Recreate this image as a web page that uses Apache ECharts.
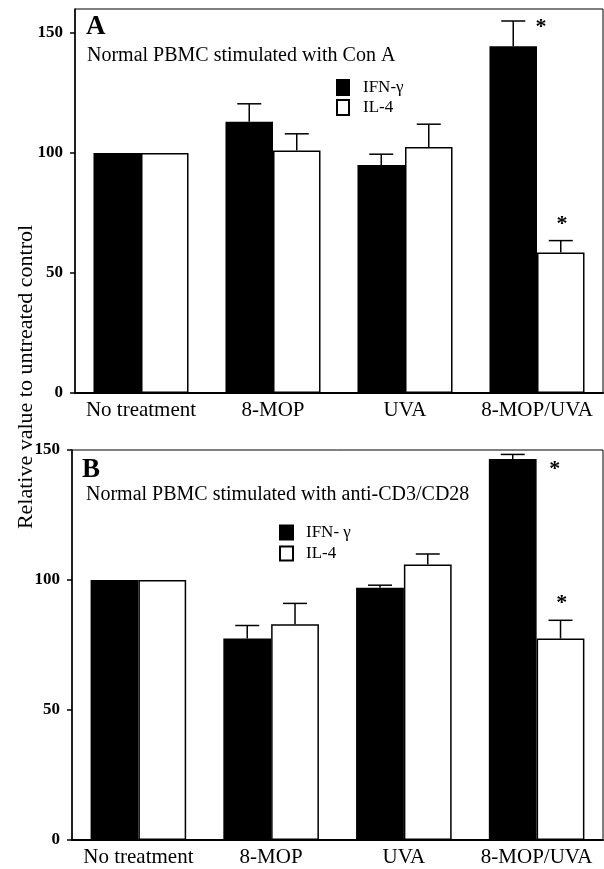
<!DOCTYPE html>
<html>
<head>
<meta charset="utf-8">
<script src="https://cdn.jsdelivr.net/npm/echarts@6/dist/echarts.min.js"></script>
<style>
  html, body { margin: 0; padding: 0; background: #fff; }
  #chart { width: 604px; height: 869px; }
</style>
</head>
<body>
<div id="chart"></div>
<script>
// categories shared by both panels
var categories = ['No treatment', '8-MOP', 'UVA', '8-MOP/UVA'];

// panel A: Con A
var ifnA = [100, 113, 95, 144.5];
var ifnErrA = [null, 120.5, 99.5, 155];
var il4A = [100, 101, 102.5, 58.5];
var il4ErrA = [null, 108, 112, 63.5];
var starsA = [[3, 154, 0], [3, 72, 1]]; // [category, value, 0=IFN / 1=IL-4]

// panel B: anti-CD3/CD28
var ifnB = [100, 77.5, 97, 146.5];
var ifnErrB = [null, 82.5, 98, 148.3];
var il4B = [100, 83, 106, 77.5];
var il4ErrB = [null, 91, 110, 84.5];
var starsB = [[3, 144, 0], [3, 92.5, 1]];

var serif = '"Liberation Serif", "DejaVu Serif", serif';
var catGap = 0.28;

function errData(vals, errs, side) {
  var out = [];
  for (var i = 0; i < vals.length; i++) {
    if (errs[i] != null) out.push([i, vals[i], errs[i], side]);
  }
  return out;
}

function errItem(params, api) {
  var c = api.value(0);
  var base = api.coord([c, api.value(1)]);
  var top = api.coord([c, api.value(2)]);
  var band = api.size([1, 0])[0];
  var bw = band * (1 - catGap) / 2;
  var x = base[0] + (api.value(3) === 0 ? -bw / 2 : bw / 2);
  return {
    type: 'group',
    children: [
      { type: 'line', shape: { x1: x, y1: base[1], x2: x, y2: top[1] }, style: { stroke: '#000', lineWidth: 1.5 } },
      { type: 'line', shape: { x1: x - 12, y1: top[1], x2: x + 12, y2: top[1] }, style: { stroke: '#000', lineWidth: 1.5 } }
    ]
  };
}

function starItem(dx) {
  return function (params, api) {
    var p = api.coord([api.value(0), api.value(1)]);
    return {
      type: 'text',
      x: p[0] + dx[api.value(2)],
      y: p[1] + 4,
      style: { text: '*', font: 'bold 22px ' + serif, fill: '#000', align: 'center', verticalAlign: 'middle' }
    };
  };
}

function xAxisFor(gi) {
  return {
    type: 'category', gridIndex: gi, data: categories,
    axisLine: { lineStyle: { color: '#000', width: 2 } },
    axisTick: { length: 4, lineStyle: { color: '#000', width: 1.5 } },
    axisLabel: { interval: 0, color: '#000', fontFamily: serif, fontSize: 21, margin: 7 }
  };
}

function yAxisFor(gi, max, hideMax) {
  return {
    type: 'value', gridIndex: gi, min: 0, max: max, interval: 50,
    splitLine: { show: false },
    axisLine: { show: true, lineStyle: { color: '#000', width: 1.5 } },
    axisTick: { show: true, length: 5, lineStyle: { color: '#000', width: 1.5 } },
    axisLabel: { color: '#000', fontFamily: serif, fontSize: 17, fontWeight: 'bold', margin: 12, showMaxLabel: !hideMax }
  };
}

function barSeries(name, gi, data, fill) {
  return {
    name: name, type: 'bar', xAxisIndex: gi, yAxisIndex: gi, data: data,
    barGap: '0%', barCategoryGap: (catGap * 100) + '%',
    itemStyle: { color: fill, borderColor: '#000', borderWidth: 1.5 },
    silent: true
  };
}

var chart = echarts.init(document.getElementById('chart'));
chart.setOption({
  animation: false,
  backgroundColor: '#fff',
  title: [
    { text: 'A', left: 86, top: 14, padding: 0, textStyle: { fontFamily: serif, fontSize: 27, fontWeight: 'bold', color: '#000' } },
    { text: 'Normal PBMC stimulated with Con A', left: 87, top: 46, padding: 0, textStyle: { fontFamily: serif, fontSize: 20, fontWeight: 'normal', color: '#000' } },
    { text: 'B', left: 82, top: 457, padding: 0, textStyle: { fontFamily: serif, fontSize: 27, fontWeight: 'bold', color: '#000' } },
    { text: 'Normal PBMC stimulated with anti-CD3/CD28', left: 86, top: 485, padding: 0, textStyle: { fontFamily: serif, fontSize: 20, fontWeight: 'normal', color: '#000' } }
  ],
  legend: [
    {
      data: ['IFN-γ', 'IL-4'], orient: 'vertical', left: 336, top: 79, padding: 0,
      itemWidth: 12, itemHeight: 15, itemGap: 3, icon: 'rect',
      textStyle: { fontFamily: serif, fontSize: 17, color: '#000', padding: [0, 0, 0, 9] }
    },
    {
      data: ['IFN- γ', 'IL-4 '], orient: 'vertical', left: 279, top: 524, padding: 0,
      itemWidth: 13, itemHeight: 14, itemGap: 4, icon: 'rect',
      textStyle: { fontFamily: serif, fontSize: 17, color: '#000', padding: [0, 0, 0, 8] }
    }
  ],
  graphic: [
    {
      type: 'text', x: 26, y: 377, rotation: Math.PI / 2,
      style: { text: 'Relative value to untreated control', font: '22px ' + serif, fill: '#000', align: 'center', verticalAlign: 'middle' }
    }
  ],
  grid: [
    { left: 75, top: 9, width: 528, height: 384, show: true, borderColor: '#000', borderWidth: 1, backgroundColor: 'transparent' },
    { left: 72, top: 450, width: 531, height: 390, show: true, borderColor: '#000', borderWidth: 1, backgroundColor: 'transparent' }
  ],
  xAxis: [xAxisFor(0), xAxisFor(1)],
  yAxis: [yAxisFor(0, 160, true), yAxisFor(1, 150, false)],
  series: [
    barSeries('IFN-γ', 0, ifnA, '#000'),
    barSeries('IL-4', 0, il4A, '#fff'),
    { type: 'custom', xAxisIndex: 0, yAxisIndex: 0, renderItem: errItem, data: errData(ifnA, ifnErrA, 0).concat(errData(il4A, il4ErrA, 1)), encode: { x: 0, y: 2 }, silent: true, z: 3 },
    { type: 'custom', xAxisIndex: 0, yAxisIndex: 0, renderItem: starItem([4, 25]), data: starsA, encode: { x: 0, y: 1 }, silent: true, z: 3 },
    barSeries('IFN- γ', 1, ifnB, '#000'),
    barSeries('IL-4 ', 1, il4B, '#fff'),
    { type: 'custom', xAxisIndex: 1, yAxisIndex: 1, renderItem: errItem, data: errData(ifnB, ifnErrB, 0).concat(errData(il4B, il4ErrB, 1)), encode: { x: 0, y: 2 }, silent: true, z: 3 },
    { type: 'custom', xAxisIndex: 1, yAxisIndex: 1, renderItem: starItem([18, 25]), data: starsB, encode: { x: 0, y: 1 }, silent: true, z: 3 }
  ]
});
</script>
</body>
</html>
